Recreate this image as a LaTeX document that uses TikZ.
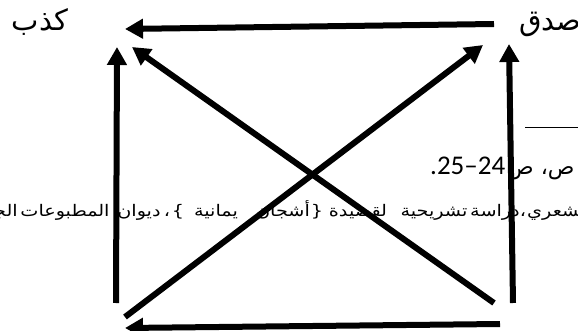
\documentclass[tikz,border=0pt]{standalone}
\usepackage{fontspec}
\TeXXeTstate=1
\newfontfamily\arabicfont[Script=Arabic]{DejaVu Sans}
\newfontfamily\fnfont[Script=Arabic,FakeStretch=1.2]{DejaVu Sans}
\newfontfamily\latinfont{Carlito}
\usetikzlibrary{arrows.meta}
\begin{document}
\begin{tikzpicture}[x=1pt,y=-1pt,
  lbl/.style={font=\arabicfont\fontsize{29}{32}\selectfont, inner sep=0pt},
  fn/.style={font=\fnfont\fontsize{16}{19}\selectfont, inner sep=0pt, anchor=base},
  num/.style={font=\latinfont\fontsize{27}{30}\selectfont, inner sep=0pt, anchor=base west},
  arr/.style={line width=6pt, -{Triangle[length=18pt,width=19pt]}},
  rule/.style={line width=0.8pt}]
\useasboundingbox (0,0) rectangle (578,331);
\clip (0,0) rectangle (578,331);
% labels
\node[lbl] (kadhib) at (40,22) {\beginR كذب\endR};
\node[lbl, anchor=west] (sidq) at (519,24) {\beginR صدق\endR};
% footnote separator
\coordinate (r1) at (525,127);
\coordinate (r2) at (580,127);
\draw[rule] (r1) -- (r2);
% page reference
\node[num] (pages) at (430,175) {.25–24};
\node[anchor=base west, inner sep=0pt, font=\arabicfont\fontsize{22}{24}\selectfont] (sad) at (507,175) {\beginR ص، ص\endR};
% footnote line
\node[fn, anchor=base east] (w0) at (18,217) {\beginR الجامعية\endR};
\node[fn] (w1) at (65,217) {\beginR المطبوعات\endR};
\node[fn] (w2) at (139,217) {\beginR ديوان\endR};
\node[fn] (c1) at (167,217) {\beginR ،\endR};
\node[fn] (b1) at (178,217) {\}};
\node[fn] (w3) at (216,217) {\beginR يمانية\endR};
\node[fn] (w4) at (283,217) {\beginR أشجان\endR};
\node[fn] (b2) at (317,217) {\{};
\node[fn] (w5) at (358,217) {\beginR لقصيدة\endR};
\node[fn] (w6) at (434,217) {\beginR تشريحية\endR};
\node[fn] (w7) at (495,217) {\beginR دراسة\endR};
\node[fn] (c2) at (523,217) {\beginR ،\endR};
\node[fn, anchor=base west] (w8) at (527,217) {\beginR الشعري\endR};
% arrow end points
\coordinate (topS) at (494,24);
\coordinate (topT) at (125,29);
\coordinate (lvS) at (116,303);
\coordinate (lvT) at (117,47);
\coordinate (rvS) at (513,303);
\coordinate (rvT) at (509,44);
\coordinate (d1S) at (494,303);
\coordinate (d1T) at (132,47);
\coordinate (d2S) at (125,317);
\coordinate (d2T) at (483,45);
\coordinate (botS) at (500,324);
\coordinate (botT) at (125,328);
% arrows
\draw[arr] (topS) -- (topT);
\draw[arr] (lvS) -- (lvT);
\draw[arr] (rvS) -- (rvT);
\draw[arr] (d1S) -- (d1T);
\draw[arr] (d2S) -- (d2T);
\draw[arr] (botS) -- (botT);
\end{tikzpicture}
\end{document}
